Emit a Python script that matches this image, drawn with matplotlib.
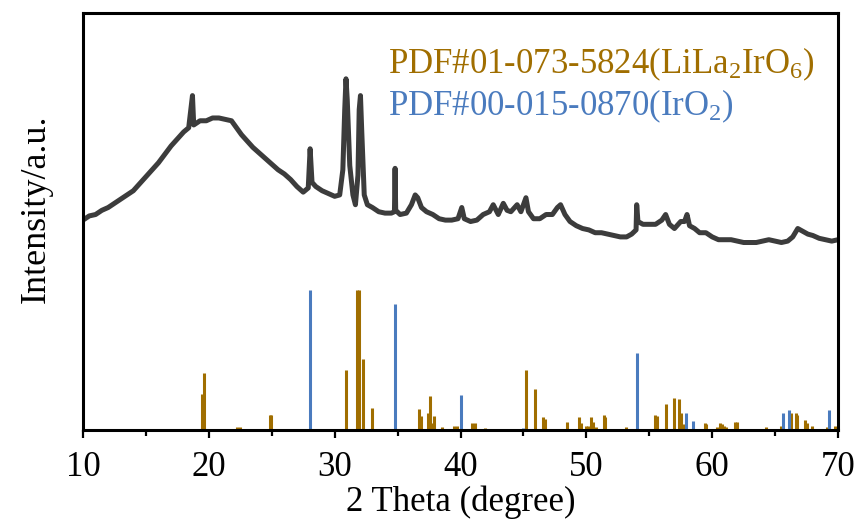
import matplotlib.pyplot as plt
from matplotlib.ticker import MultipleLocator

plt.rcParams['font.family'] = ['Liberation Serif', 'DejaVu Serif']
plt.rcParams['mathtext.fontset'] = 'custom'
plt.rcParams['mathtext.rm'] = 'Liberation Serif'
plt.rcParams['mathtext.it'] = 'Liberation Serif:italic'

# measured pattern (2theta, intensity)
theta = [10.0, 10.5, 11.0, 11.5, 12.0, 12.5, 13.0, 13.5, 14.0, 14.5, 15.0, 15.5,
         16.0, 16.5, 17.0, 17.5, 18.0, 18.4, 18.7, 18.8, 19.3, 19.8, 20.3, 20.8,
         21.3, 21.8, 22.2, 22.6, 23.0, 23.5, 24.0, 24.5, 25.0, 25.5, 26.0, 26.5,
         27.0, 27.5, 27.9, 28.05, 28.2, 28.5, 29.0, 29.5, 30.0, 30.4, 30.65, 30.8,
         30.9, 31.0, 31.2, 31.45, 31.65, 31.85, 31.95, 32.05, 32.15, 32.35, 32.6, 33.0,
         33.5, 34.0, 34.5, 34.75, 34.8, 34.85, 35.2, 35.7, 36.1, 36.4, 36.6, 36.9,
         37.3, 37.8, 38.3, 38.8, 39.3, 39.8, 40.1, 40.3, 40.8, 41.3, 41.8, 42.3,
         42.6, 43.0, 43.4, 43.7, 44.0, 44.5, 44.8, 45.2, 45.4, 45.8, 46.3, 46.8,
         47.3, 47.7, 47.95, 48.3, 48.7, 49.2, 49.7, 50.2, 50.7, 51.2, 51.7, 52.2,
         52.7, 53.2, 53.6, 53.95, 54.0, 54.1, 54.5, 55.0, 55.5, 56.0, 56.3, 56.6,
         57.0, 57.5, 57.8, 58.0, 58.2, 58.6, 59.0, 59.5, 60.0, 60.5, 61.0, 61.5,
         62.0, 62.5, 63.0, 63.5, 64.0, 64.5, 65.0, 65.5, 66.0, 66.4, 66.8, 67.2,
         67.6, 68.0, 68.5, 69.0, 69.5, 70.0]
counts = [150, 153, 154, 157, 159, 162, 165, 168, 171, 176, 181, 186,
          191, 197, 203, 208, 213, 216, 239, 218, 221, 221, 223, 223,
          222, 221, 216, 211, 207, 202, 198, 194, 190, 186, 183, 179,
          174, 170, 173, 201, 177, 174, 171, 169, 167, 168, 186, 229,
          251, 236, 189, 168, 161, 182, 229, 239, 214, 168, 161, 159,
          156, 155, 155, 156, 187, 157, 154, 155, 161, 168, 166, 159,
          156, 154, 151, 150, 150, 151, 159, 151, 149, 150, 154, 156,
          161, 154, 162, 157, 156, 161, 156, 166, 156, 151, 151, 154,
          154, 159, 161, 154, 149, 146, 144, 143, 141, 141, 140, 139,
          138, 138, 140, 143, 161, 149, 147, 147, 147, 150, 154, 147,
          144, 149, 149, 154, 146, 144, 141, 141, 138, 136, 136, 136,
          135, 134, 134, 134, 135, 136, 135, 134, 135, 138, 144, 142,
          140, 139, 137, 136, 135, 136]

# PDF#01-073-5824 LiLa2IrO6 reference lines
lila_pos = [19.45, 19.6, 22.2, 22.5, 24.85, 24.95, 27.3, 30.9, 31.75, 31.9, 32.25, 32.98,
            35.85, 36.7, 36.9, 37.45, 37.6, 37.75, 37.9, 38.55, 39.5, 39.75, 40.9, 41.15,
            41.95, 42.65, 42.8, 45.2, 45.9, 46.55, 46.75, 48.5, 49.45, 49.6, 50.0, 50.1,
            50.4, 50.5, 50.75, 51.4, 51.5, 53.15, 55.45, 55.6, 56.35, 57.0, 57.35, 57.5,
            57.65, 59.0, 59.4, 59.5, 60.4, 60.6, 60.75, 60.95, 61.1, 61.3, 61.8, 61.95,
            63.15, 63.3, 63.6, 64.3, 65.5, 66.3, 66.65, 66.75, 67.35, 67.5, 67.9, 69.1, 69.75]
lila_int = [26, 41, 2, 2, 11, 11, 1, 43, 100, 100, 51, 16,
            1, 15, 10, 12, 24, 5, 10, 2.5, 3, 3, 5, 5,
            1.5, 1, 1, 43, 29, 9, 8, 6, 9, 5, 3, 3,
            9, 6, 2, 11, 9, 2.5, 11, 10, 18.5, 23, 22, 12,
            4, 1, 5, 4, 2, 5, 4, 3, 2.5, 1, 6, 6,
            1, 1, 1, 2.5, 3, 12.5, 12, 11, 7, 5, 3, 2, 3]

# PDF#00-015-0870 IrO2 reference lines
iro2_pos = [28.05, 34.8, 40.07, 45.0, 54.0, 57.95, 58.5, 65.6, 66.1, 69.3]
iro2_int = [100, 90, 25, 1.5, 55, 12.5, 6.5, 12.5, 14.3, 14.3]

gold = '#A06E00'
blue = '#4A7BBE'

fig = plt.figure(figsize=(8.59, 5.23), dpi=100)
ax = fig.add_axes([0.0966, 0.1778, 0.879, 0.7973])

ax.plot(theta, counts, color='#3c3c3c', lw=3.6, solid_joinstyle='round')
ax.vlines(lila_pos, 0, lila_int, color=gold, lw=2.2)
ax.vlines(iro2_pos, 0, iro2_int, color=blue, lw=2.2)

ax.text(0.404, 0.856, 'PDF#01-073-5824(LiLa$_2$IrO$_6$)', color=gold, fontsize=25,
        transform=ax.transAxes, va='baseline')
ax.text(0.404, 0.755, 'PDF#00-015-0870(IrO$_2$)', color=blue, fontsize=25,
        transform=ax.transAxes, va='baseline')

ax.set_xlim(10, 70)
ax.set_ylim(0, 298)
ax.set_yticks([])
ax.xaxis.set_major_locator(MultipleLocator(10))
ax.xaxis.set_minor_locator(MultipleLocator(5))
ax.tick_params(axis='x', which='major', direction='out', length=6, width=1.6,
               labelsize=25, pad=9)
ax.tick_params(axis='x', which='minor', direction='out', length=4, width=1.6)
for s in ax.spines.values():
    s.set_linewidth(2.2)

ax.set_xlabel('2 Theta (degree)', fontsize=25, labelpad=1)
ax.set_ylabel('Intensity/a.u.', fontsize=26, labelpad=22, y=0.53)

fig.savefig('out.png', dpi=100)
